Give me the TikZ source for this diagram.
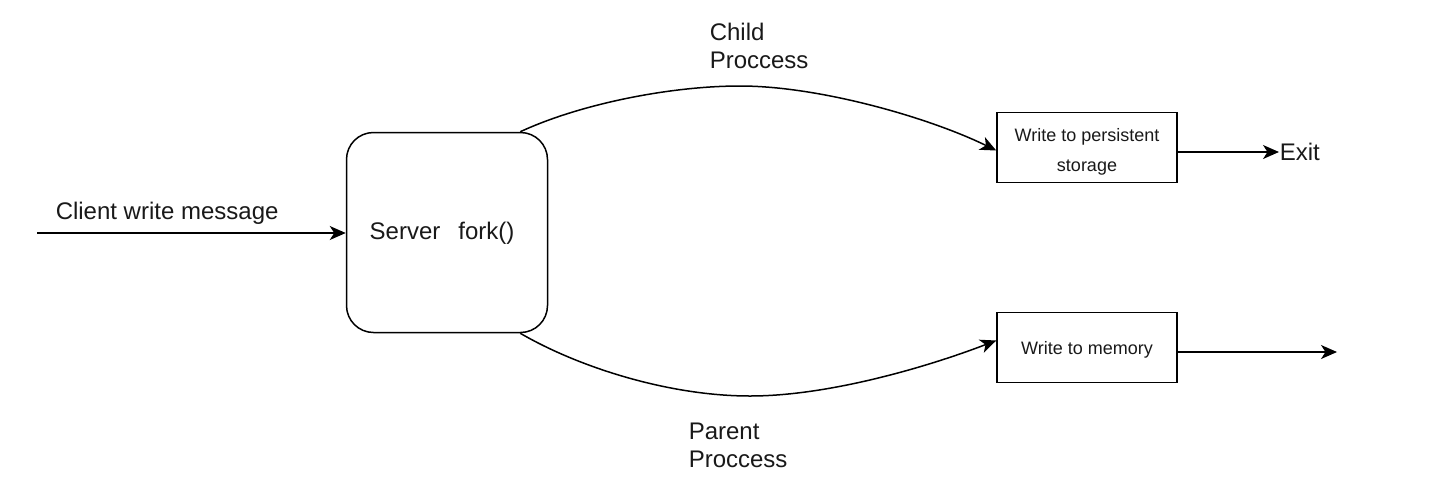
\documentclass[tikz,border=0pt]{standalone}
\usepackage{fontspec}
\setmainfont{Liberation Sans}
\usetikzlibrary{arrows.meta,calc}
\begin{document}
\begin{tikzpicture}[x=1pt,y=-1pt,
  line width=1.5pt,
  arr/.style={-{Stealth[length=16pt,width=14pt,inset=4.5pt]}},
  bigtext/.style={font=\fontsize{24}{28}\selectfont, inner sep=0pt, text=black!90},
  smalltext/.style={font=\fontsize{18}{30}\selectfont, inner sep=0pt, align=center, text=black!90},
  serverbox/.style={draw, rounded corners=27pt, minimum width=201pt, minimum height=200pt, inner sep=0pt},
  wbox/.style={draw, minimum width=180pt, minimum height=70pt, inner sep=0pt}
]
\useasboundingbox (0,0) rectangle (1454,488);

\node[serverbox] (server) at (447,232.5) {};
\node[bigtext] (servertext) at (442,233) {Server\hspace{18pt}fork()};

\node[wbox] (box1) at (1087,147.5) {};
\node[smalltext] (t1) at (1087,152) {Write to persistent\\storage};
\node[wbox] (box2) at (1087,347.5) {};
\node[smalltext] (t2) at (1087,350) {Write to memory};

\node[bigtext, anchor=west] (exit) at (1279,152) {Exit};
\coordinate (memend) at (1337,352);
\coordinate (start) at (37,233);

\node[bigtext, anchor=west] (client) at (55,213) {Client write message};
\node[bigtext, anchor=north west, align=left, font=\fontsize{24}{28}\selectfont] (child) at (709,22) {Child\\Proccess};
\node[bigtext, anchor=north west, align=left, font=\fontsize{24}{28}\selectfont] (parent) at (688,422) {Parent\\Proccess};

\draw[arr] (start) -- (server.west |- start);

\coordinate (ts) at ($(server.north east)+(-28,0)$);
\coordinate (te) at ($(box1.west)+(0,3)$);
\coordinate (tm) at (740,86);
\draw[arr] (ts) .. controls (580,104) and (670,86) .. (tm)
  .. controls (820,86) and (930,118) .. (te);

\coordinate (bs) at ($(server.south east)+(-28,0)$);
\coordinate (be) at ($(box2.west)+(0,-7)$);
\coordinate (bm) at (750,396);
\draw[arr] (bs) .. controls (580,368) and (670,396) .. (bm)
  .. controls (830,396) and (930,366) .. (be);

\draw[arr] ([yshift=-4.5pt]box1.east) -- (exit.west);
\draw[arr] ([yshift=-4.5pt]box2.east) -- (memend);
\end{tikzpicture}
\end{document}
